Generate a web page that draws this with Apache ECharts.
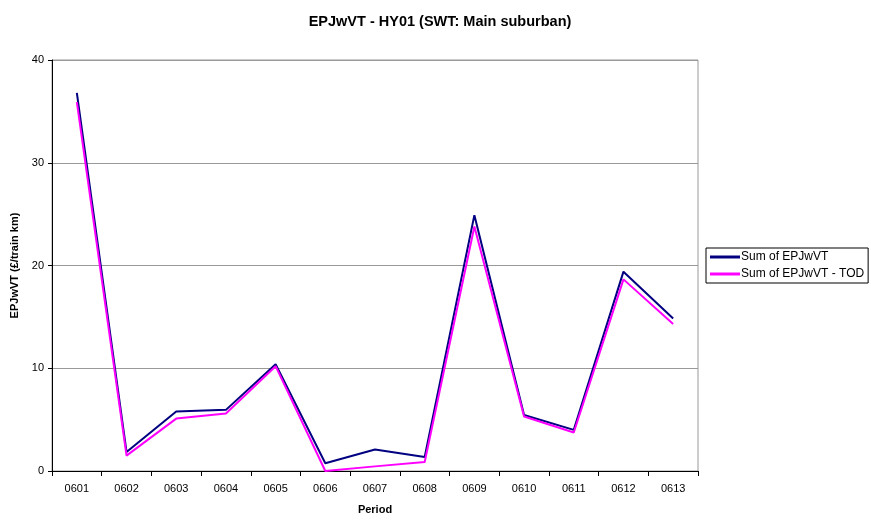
<!DOCTYPE html>
<html lang="en">
<head>
    <meta charset="utf-8"/>
    <title>EPJwVT - HY01</title>
    <script src="https://cdn.jsdelivr.net/npm/echarts@6/dist/echarts.min.js"></script>
    <style>
        html, body { margin: 0; padding: 0; background: #fff; }
        #chart { width: 871px; height: 521px; }
    </style>
</head>
<body>
    <div id="chart"></div>
    <script>
        // periods on the x axis
        const periods = ['0601', '0602', '0603', '0604', '0605', '0606', '0607',
                         '0608', '0609', '0610', '0611', '0612', '0613'];
        // Sum of EPJwVT
        const sumEpjwvt = [36.8, 1.85, 5.8, 5.95, 10.4, 0.75, 2.1, 1.36, 24.9, 5.45, 4.0, 19.4, 14.85];
        // Sum of EPJwVT - TOD
        const sumEpjwvtTod = [35.9, 1.5, 5.1, 5.6, 10.2, 0.0, 0.45, 0.88, 23.8, 5.3, 3.75, 18.65, 14.3];
        const yTicks = [0, 10, 20, 30, 40];

        const chart = echarts.init(document.getElementById('chart'));
        const font = 'Liberation Sans, Arial, sans-serif';
        const option = {
            animation: false,
            backgroundColor: '#fff',
            title: {
                text: 'EPJwVT - HY01 (SWT: Main suburban)',
                left: 435, top: 9, textAlign: 'center',
                textStyle: { fontFamily: font, fontSize: 14.5, fontWeight: 'bold', color: '#000' }
            },
            legend: {
                orient: 'vertical',
                left: 706, top: 248,
                padding: [3, 4, 3, 4],
                itemGap: 5,
                itemWidth: 30, itemHeight: 3,
                icon: 'rect',
                borderColor: '#000', borderWidth: 1,
                textStyle: { fontFamily: font, fontSize: 12, color: '#000', padding: [0, 0, 0, -4] },
                data: ['Sum of EPJwVT', 'Sum of EPJwVT - TOD']
            },
            grid: {
                left: 52, right: 173, top: 60, bottom: 50,
                show: true, borderColor: '#999', borderWidth: 1
            },
            xAxis: {
                type: 'category',
                data: periods,
                boundaryGap: true,
                name: 'Period',
                nameLocation: 'middle',
                nameGap: 33,
                nameTextStyle: { fontFamily: font, fontSize: 11, fontWeight: 'bold', color: '#000' },
                axisLine: { lineStyle: { color: '#000', width: 1 } },
                axisTick: { show: true, length: 5, lineStyle: { color: '#000' } },
                axisLabel: { fontFamily: font, fontSize: 11, color: '#000', margin: 12 }
            },
            yAxis: {
                type: 'value',
                min: yTicks[0], max: yTicks[yTicks.length - 1], interval: 10,
                name: 'EPJwVT (£/train km)',
                nameLocation: 'middle',
                nameGap: 32,
                nameTextStyle: { fontFamily: font, fontSize: 11, fontWeight: 'bold', color: '#000' },
                axisLine: { show: true, lineStyle: { color: '#000', width: 1 } },
                axisTick: { show: true, length: 4, lineStyle: { color: '#000' } },
                axisLabel: { fontFamily: font, fontSize: 11, color: '#000', margin: 8 },
                splitLine: { show: true, lineStyle: { color: '#999', width: 1 } }
            },
            series: [
                {
                    name: 'Sum of EPJwVT', type: 'line', data: sumEpjwvt,
                    showSymbol: false, symbol: 'none', z: 2,
                    itemStyle: { color: '#000080' },
                    lineStyle: { color: '#000080', width: 2 }
                },
                {
                    name: 'Sum of EPJwVT - TOD', type: 'line', data: sumEpjwvtTod,
                    showSymbol: false, symbol: 'none', z: 3,
                    itemStyle: { color: '#ff00ff' },
                    lineStyle: { color: '#ff00ff', width: 2 }
                }
            ]
        };
        chart.setOption(option);
    </script>
</body>
</html>
